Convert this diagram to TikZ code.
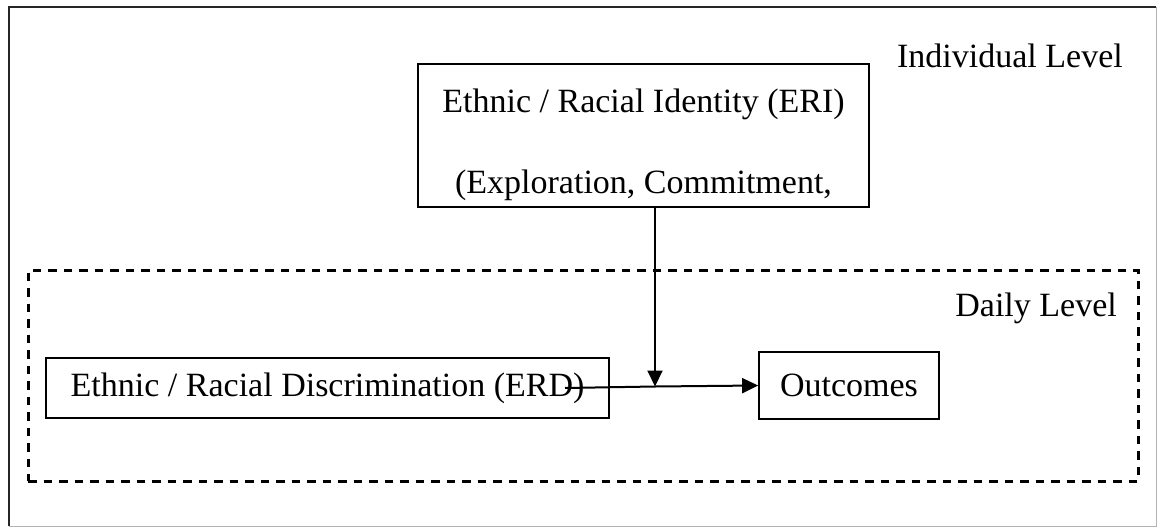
\documentclass[tikz,border=0pt]{standalone}
\usepackage{fontspec}
\setmainfont{Liberation Serif}
\usetikzlibrary{arrows.meta}
\begin{document}
\begin{tikzpicture}[x=1pt,y=-1pt,
  box/.style={draw=black,line width=1.7pt,inner sep=0pt,font=\fontsize{34}{81}\selectfont},
  lbl/.style={inner sep=0pt,font=\fontsize{34}{40}\selectfont},
  arr/.style={line width=2pt,-{Triangle[length=16pt,width=15pt]}},
  dashbox/.style={draw=black,line width=3pt,dash pattern=on 8.5pt off 7pt}]
\useasboundingbox (0,0) rectangle (1157,527);
% outer frame
\draw[line width=1pt,gray!60] (1156,7) -- (1156,526) -- (9,526);
\draw[line width=2.4pt,black!85] (9,526) -- (9,7) -- (1156,7);
% dashed daily-level frame
\node[dashbox,minimum width=1110pt,minimum height=211pt,inner sep=0pt] (daily) at (583,375.5) {};
% nodes
\node[box,minimum width=451pt,minimum height=143pt,align=center] (eri) at (643.5,135.5)
  {\rule{0pt}{42pt}Ethnic / Racial Identity (ERI)\\(Exploration, Commitment,};
\node[box,line width=1.3pt,minimum width=563pt,minimum height=60pt] (erd) at (327.5,388)
  {Ethnic / Racial Discrimination (ERD)};
\node[box,minimum width=180pt,minimum height=67pt] (out) at (849,385.5) {Outcomes};
\node[lbl,anchor=base east] (ind) at (1123,67) {Individual Level};
\node[lbl,anchor=base east] (day) at (1117,316) {Daily Level};
% connectors
\coordinate (hs) at (565,388);
\coordinate (mod) at (655,386.5);
\draw[line width=2pt] (hs) -- (mod);
\draw[arr] (mod) -- (out.west);
\draw[arr] (eri.south -| mod) -- (mod);
\end{tikzpicture}
\end{document}
